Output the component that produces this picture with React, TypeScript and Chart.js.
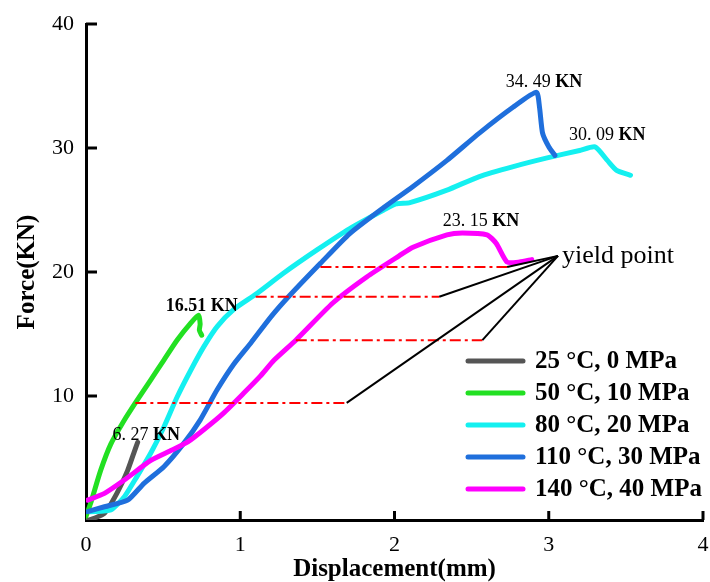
import React, { useEffect, useRef } from 'react';
import { Chart, registerables } from 'chart.js';

Chart.register(...registerables);

// ---------- data ----------
const seriesLabels = ['25 °C, 0 MPa', '50 °C, 10 MPa', '80 °C, 20 MPa', '110 °C, 30 MPa', '140 °C, 40 MPa'];
const seriesColors = ['#555555', '#22e022', '#14f0f0', '#1f6fdc', '#ff00ff'];

const disp25 = [0, 0.02, 0.12, 0.2, 0.27, 0.31, 0.335];
const force25 = [0, 0, 0.55, 2.15, 4.0, 5.4, 6.27];

const disp50 = [0, 0.03, 0.095, 0.16, 0.246, 0.32, 0.42, 0.505, 0.59, 0.68, 0.73, 0.74, 0.735, 0.75];
const force50 = [0.3, 1.35, 4.0, 6.1, 8.0, 9.44, 11.3, 12.9, 14.5, 15.9, 16.51, 15.8, 15.3, 14.9];

const disp80 = [0.03, 0.16, 0.25, 0.33, 0.42, 0.505, 0.59, 0.68, 0.765, 0.85, 0.96, 1.1, 1.28, 1.5, 1.71, 1.93, 2.01, 2.1, 2.34, 2.55, 2.77, 2.99, 3.2, 3.3, 3.38, 3.44, 3.53];
const force80 = [0.67, 0.8, 1.9, 3.5, 5.4, 7.5, 9.9, 12.1, 14.0, 15.6, 17.0, 18.2, 19.9, 21.8, 23.5, 25.0, 25.5, 25.6, 26.6, 27.7, 28.5, 29.2, 29.8, 30.09, 29.0, 28.2, 27.8];

const disp110 = [0.01, 0.12, 0.27, 0.376, 0.505, 0.635, 0.74, 0.85, 0.96, 1.07, 1.2, 1.32, 1.52, 1.71, 1.93, 2.12, 2.34, 2.55, 2.77, 2.92, 2.94, 2.96, 3.0, 3.04];
const force110 = [0.67, 1.07, 1.6, 2.96, 4.3, 6.2, 8.06, 10.5, 12.6, 14.3, 16.4, 18.1, 20.7, 23.1, 25.2, 26.9, 29.0, 31.2, 33.3, 34.49, 33.3, 31.2, 30.1, 29.4];

const disp140 = [0.01, 0.12, 0.246, 0.42, 0.55, 0.66, 0.765, 0.89, 1.02, 1.13, 1.22, 1.36, 1.6, 1.82, 2.03, 2.12, 2.34, 2.44, 2.6, 2.66, 2.73, 2.81, 2.89];
const force140 = [1.6, 2.15, 3.2, 4.8, 5.6, 6.3, 7.3, 8.6, 10.2, 11.6, 12.9, 14.5, 17.5, 19.6, 21.3, 22.0, 23.0, 23.15, 23.0, 22.3, 20.8, 20.8, 21.0];

const seriesX = [disp25, disp50, disp80, disp110, disp140];
const seriesY = [force25, force50, force80, force110, force140];

const xTickValues = [0, 1, 2, 3, 4];
const yTickValues = [10, 20, 30, 40];

// peak annotations
const peakNumbers = ['6. 27', '16.51', '34. 49', '30. 09', '23. 15'];
const peakNumberBold = [false, true, false, false, false];
const peakLabelX = [0.39, 0.75, 2.97, 3.38, 2.56];
const peakLabelY = [6.85, 17.26, 35.3, 31.0, 24.1];

// yield point guide lines
const yieldLevels = [9.44, 14.5, 18.0, 20.4];
const yieldStartX = [0.32, 1.36, 1.1, 1.52];
const yieldEndX = [1.69, 2.57, 2.29, 2.73];
const yieldPointX = 3.06;
const yieldPointY = 21.3;
const yieldText = 'yield point';

const SERIF = "'Liberation Serif', 'Times New Roman', serif";

export default function App() {
  const ref = useRef<HTMLCanvasElement | null>(null);

  useEffect(() => {
    const canvas = ref.current;
    if (!canvas) return;

    const mainSets = seriesLabels.map((label, i) => ({
      label,
      data: seriesX[i].map((x, k) => ({ x, y: seriesY[i][k] })),
      borderColor: seriesColors[i],
      backgroundColor: seriesColors[i],
      borderWidth: 5,
      pointRadius: 0,
      tension: 0.2,
      fill: false,
      borderCapStyle: 'round',
      borderJoinStyle: 'round',
      order: [4, 3, 2, 1, 0][i],
    }));

    const redSets = yieldLevels.map((lv, i) => ({
      label: 'guide' + i,
      data: [{ x: yieldStartX[i], y: lv }, { x: yieldEndX[i], y: lv }],
      borderColor: '#ff0000',
      borderWidth: 2,
      borderDash: [11, 4, 3, 4],
      pointRadius: 0,
      fill: false,
      order: -1,
    }));

    const blackSets = yieldLevels.map((lv, i) => ({
      label: 'leader' + i,
      data: [{ x: yieldEndX[i], y: lv }, { x: yieldPointX, y: yieldPointY }],
      borderColor: '#000000',
      borderWidth: 2,
      pointRadius: 0,
      fill: false,
      order: -2,
    }));

    const decor = {
      id: 'decor',
      beforeDraw(chart: any) {
        const c = chart.ctx;
        c.save();
        c.fillStyle = '#ffffff';
        c.fillRect(0, 0, chart.width, chart.height);
        c.restore();
      },
      afterDraw(chart: any) {
        const c = chart.ctx;
        const xs = chart.scales.x;
        const ys = chart.scales.y;
        const area = chart.chartArea;
        c.save();
        // inward ticks
        c.strokeStyle = '#000';
        c.lineWidth = 3;
        yTickValues.forEach((v) => {
          const py = ys.getPixelForValue(v);
          c.beginPath();
          c.moveTo(area.left, py);
          c.lineTo(area.left + 11, py);
          c.stroke();
        });
        xTickValues.forEach((v) => {
          if (v === 0) return;
          const px = xs.getPixelForValue(v);
          c.beginPath();
          c.moveTo(px, area.bottom);
          c.lineTo(px, area.bottom - 9);
          c.stroke();
        });

        // peak labels
        c.fillStyle = '#000';
        c.textBaseline = 'middle';
        c.textAlign = 'left';
        peakNumbers.forEach((num, i) => {
          const size = 18;
          const fNum = (peakNumberBold[i] ? 'bold ' : '') + size + 'px ' + SERIF;
          const fKN = 'bold ' + size + 'px ' + SERIF;
          const t1 = num + ' ';
          c.font = fNum;
          const w1 = c.measureText(t1).width;
          c.font = fKN;
          const w2 = c.measureText('KN').width;
          const cx = xs.getPixelForValue(peakLabelX[i]);
          const cy = ys.getPixelForValue(peakLabelY[i]);
          const sx = cx - (w1 + w2) / 2;
          c.font = fNum;
          c.fillText(t1, sx, cy);
          c.font = fKN;
          c.fillText('KN', sx + w1, cy);
        });

        // yield point text
        c.font = '26px ' + SERIF;
        c.fillText(yieldText, xs.getPixelForValue(yieldPointX) + 4, ys.getPixelForValue(yieldPointY));

        // legend
        const lx = area.right - 235;
        const ly = area.bottom - 159;
        c.font = 'bold 25px ' + SERIF;
        c.lineCap = 'round';
        seriesLabels.forEach((lab, i) => {
          const y = ly + i * 32;
          c.strokeStyle = seriesColors[i];
          c.lineWidth = 5;
          c.beginPath();
          c.moveTo(lx, y);
          c.lineTo(lx + 55, y);
          c.stroke();
          c.fillStyle = '#000';
          c.fillText(lab, lx + 67, y + 1);
        });
        c.restore();
      },
    };

    const chart = new Chart(canvas, {
      type: 'line',
      data: { datasets: [...mainSets, ...redSets, ...blackSets] as any },
      options: {
        animation: false,
        responsive: false,
        layout: { padding: { left: 0, right: 7, top: 24, bottom: 0 } },
        plugins: {
          legend: { display: false },
          tooltip: { enabled: false },
        },
        scales: {
          x: {
            type: 'linear',
            min: 0,
            max: 4,
            afterBuildTicks: (s: any) => {
              s.ticks = xTickValues.map((v) => ({ value: v }));
            },
            ticks: {
              color: '#000',
              font: { family: SERIF, size: 22 },
              padding: 12,
              autoSkip: false,
              maxRotation: 0,
            },
            grid: { display: false, drawTicks: false },
            border: { display: true, color: '#000', width: 3 },
            title: {
              display: true,
              text: 'Displacement(mm)',
              color: '#000',
              font: { family: SERIF, size: 25, weight: 'bold', lineHeight: 1 },
              padding: { top: 0, bottom: 0 },
            },
            afterFit: (s: any) => {
              s.height = 62;
              s.paddingLeft = 0;
              s.paddingRight = 0;
            },
          },
          y: {
            type: 'linear',
            min: 0,
            max: 40,
            afterBuildTicks: (s: any) => {
              s.ticks = [0, ...yTickValues].map((v) => ({ value: v }));
            },
            ticks: {
              color: '#000',
              font: { family: SERIF, size: 22 },
              padding: 12,
              autoSkip: false,
              callback: (v: any) => (v === 0 ? '' : String(v)),
            },
            grid: { display: false, drawTicks: false },
            border: { display: true, color: '#000', width: 3 },
            title: {
              display: true,
              text: 'Force(KN)',
              color: '#000',
              font: { family: SERIF, size: 25, weight: 'bold', lineHeight: 1 },
              padding: { top: 15, bottom: 0 },
            },
            afterFit: (s: any) => {
              s.width = 86;
              s.paddingTop = 0;
              s.paddingBottom = 0;
            },
          },
        },
      } as any,
      plugins: [decor],
    });

    return () => chart.destroy();
  }, []);

  return (
    <div style={{ position: 'absolute', left: 0, top: 0, width: 710, height: 582 }}>
      <canvas ref={ref} width={710} height={582} style={{ width: 710, height: 582, display: 'block' }} />
    </div>
  );
}
